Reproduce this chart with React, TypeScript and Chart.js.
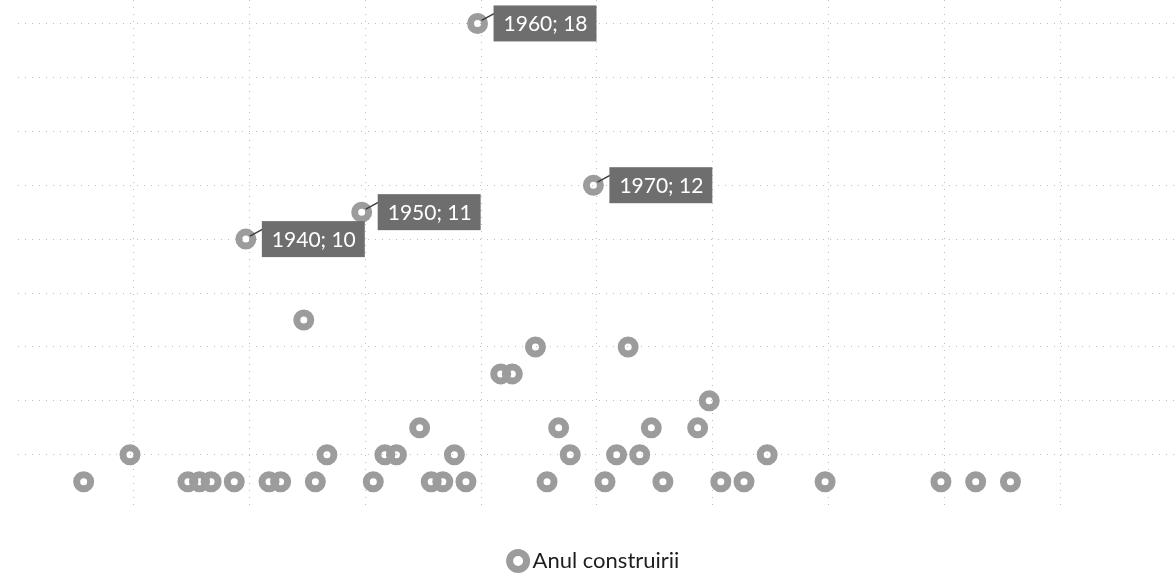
import React, { useEffect, useRef } from "react";
import { Chart, registerables } from "chart.js";

Chart.register(...registerables);

// Year of construction (x) and number of buildings (y)
const years = [
  1926, 1930, 1935, 1936, 1937, 1939, 1940, 1942, 1943, 1945, 1946, 1947,
  1950, 1951, 1952, 1953, 1955, 1956, 1957, 1958, 1959, 1960, 1962, 1963,
  1965, 1966, 1967, 1968, 1970, 1971, 1972, 1973, 1974, 1975, 1976, 1979,
  1980, 1981, 1983, 1985, 1990, 2000, 2003, 2006,
];
const counts = [
  1, 2, 1, 1, 1, 1, 10, 1, 1, 7, 1, 2,
  11, 1, 2, 2, 3, 1, 1, 2, 1, 18, 5, 5,
  6, 1, 3, 2, 12, 1, 2, 6, 2, 3, 1, 3,
  4, 1, 1, 2, 1, 1, 1, 1,
];
const labeledYears = [1940, 1950, 1960, 1970];
const seriesName = "Anul construirii";

const GRID = "#bdbdbd";
const MARK = "#9c9c9c";

const labelPlugin = {
  id: "pointLabels",
  afterDatasetsDraw(chart: any) {
    const ctx = chart.ctx;
    const meta = chart.getDatasetMeta(0);
    ctx.save();
    ctx.font = "21px Lato";
    meta.data.forEach((el: any, i: number) => {
      if (!labeledYears.includes(years[i])) return;
      const { x, y } = el.getProps(["x", "y"], true);
      const text = `${years[i]}; ${counts[i]}`;
      const tw = ctx.measureText(text).width;
      const bx = x + 16;
      const bw = tw + 19;
      const bh = 36;
      const by = y - bh / 2;
      ctx.strokeStyle = "#3c3c3c";
      ctx.lineWidth = 1.5;
      ctx.beginPath();
      ctx.moveTo(x + 4, y - 3);
      ctx.lineTo(bx + 1, y - 10);
      ctx.stroke();
      ctx.fillStyle = "#6e6e6e";
      ctx.fillRect(bx, by, bw, bh);
      ctx.fillStyle = "#ffffff";
      ctx.textBaseline = "middle";
      ctx.textAlign = "left";
      ctx.fillText(text, bx + 10, y + 1);
    });
    ctx.restore();
  },
};

export default function App() {
  const ref = useRef<HTMLCanvasElement>(null);
  useEffect(() => {
    if (!ref.current) return;
    const chart = new Chart(ref.current, {
      type: "scatter",
      data: {
        datasets: [
          {
            label: seriesName,
            data: years.map((x, i) => ({ x, y: counts[i] })),
            pointStyle: "circle",
            pointRadius: 7,
            pointHoverRadius: 7,
            borderWidth: 7,
            borderColor: MARK,
            backgroundColor: "rgba(0,0,0,0)",
          },
        ],
      },
      plugins: [labelPlugin],
      options: {
        animation: false,
        responsive: false,
        layout: { autoPadding: false, padding: { left: 18, right: 0, top: 0, bottom: -7 } },
        scales: {
          x: {
            type: "linear",
            min: 1920.332,
            max: 2020.29,
            ticks: { display: false, stepSize: 10, includeBounds: false },
            border: { display: false, dash: [1, 6] },
            grid: {
              drawTicks: false,
              lineWidth: 1,
              color: (c: any) => {
                const v = c.tick && c.tick.value;
                return v >= 1930 && v <= 2020 && Math.round(v) % 10 === 0 ? GRID : "rgba(0,0,0,0)";
              },
            },
          },
          y: {
            type: "linear",
            min: 0,
            max: 18.87,
            ticks: { display: false, stepSize: 2, includeBounds: false },
            border: { display: false, dash: [1, 6] },
            grid: {
              drawTicks: false,
              lineWidth: 1,
              color: (c: any) => {
                const v = c.tick && c.tick.value;
                return v > 0 && Math.round(v) % 2 === 0 ? GRID : "rgba(0,0,0,0)";
              },
            },
          },
        },
        plugins: {
          legend: {
            display: true,
            position: "bottom",
            labels: {
              usePointStyle: true,
              boxWidth: 7,
              boxHeight: 12,
              padding: 41.3,
              color: "#1e1e1e",
              font: { family: "Lato", size: 22 },
            },
          },
          tooltip: { enabled: false },
        },
      },
    });
    return () => chart.destroy();
  }, []);
  return (
    <div style={{ position: "fixed", left: 0, top: 0, width: 1176, height: 575, background: "#fff" }}>
      <canvas ref={ref} width={1176} height={575} />
    </div>
  );
}
